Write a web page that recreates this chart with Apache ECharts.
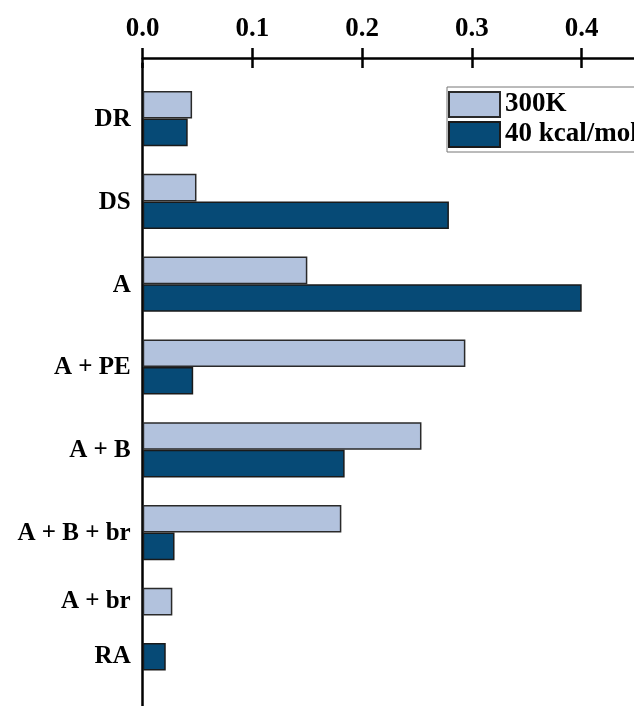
<!DOCTYPE html>
<html><head><meta charset="utf-8">
<script src="https://cdn.jsdelivr.net/npm/echarts@6/dist/echarts.min.js"></script>
<style>html,body{margin:0;padding:0;background:#fff}#c{width:634px;height:706px}</style>
</head><body><div id="c"></div>
<script>
const categories = ['DR', 'DS', 'A', 'A + PE', 'A + B', 'A + B + br', 'A + br', 'RA'];
const values300K = [0.045, 0.049, 0.150, 0.294, 0.254, 0.181, 0.027, null];
const values40kcal = [0.041, 0.279, 0.400, 0.046, 0.184, 0.029, null, 0.021];
const seriesNames = ['300K', '40 kcal/mol'];
const xMin = 0, xMax = 0.5, xStep = 0.1;

// Build bar slots: each bar gets its own band, groups separated by an empty band
const slotLabels = [''];
const slotAlign = ['middle'];
const slot300 = [null], slot40 = [null];
categories.forEach((c, i) => {
  const a = values300K[i], b = values40kcal[i];
  const both = a != null && b != null;
  if (a != null) { slotLabels.push(c); slotAlign.push(both ? 'top' : 'middle'); slot300.push(a); slot40.push(null); }
  if (b != null) { slotLabels.push(both ? '' : c); slotAlign.push('middle'); slot300.push(null); slot40.push(b); }
  slotLabels.push(''); slotAlign.push('middle'); slot300.push(null); slot40.push(null);
});
slotLabels.push(''); slotAlign.push('middle'); slot300.push(null); slot40.push(null);

const band = 27.6;
const font = 'Liberation Serif';
const chart = echarts.init(document.getElementById('c'), null, {renderer: 'canvas'});
const axisX = {
  type: 'value', position: 'top', min: xMin, max: xMax, interval: xStep, offset: 5.4,
  splitLine: {show: false}
};
chart.setOption({
  animation: false,
  backgroundColor: '#fff',
  grid: {left: 142.7, right: -57.45, top: 63.4, height: band * slotLabels.length,
    containLabel: false, outerBoundsMode: 'none'},
  legend: {
    data: seriesNames, orient: 'vertical', left: 447, top: 87,
    itemWidth: 51, itemHeight: 25, itemGap: 3,
    padding: [4, 40, 4, 1],
    borderColor: '#777', borderWidth: 1, backgroundColor: '#fff',
    icon: 'rect',
    textStyle: {fontFamily: font, fontWeight: 'bold', fontSize: 27, color: '#000'}
  },
  xAxis: [
    Object.assign({}, axisX, {
      axisLine: {show: true, lineStyle: {color: '#000', width: 2.5}},
      axisTick: {show: true, inside: false, length: 10, lineStyle: {color: '#000', width: 2.5}},
      axisLabel: {show: true, margin: 15, formatter: v => v.toFixed(1),
        fontFamily: font, fontWeight: 'bold', fontSize: 27, color: '#000'}
    }),
    Object.assign({}, axisX, {
      axisLine: {show: false},
      axisTick: {show: true, inside: true, length: 10, lineStyle: {color: '#000', width: 2.5}},
      axisLabel: {show: false}
    })
  ],
  yAxis: {
    type: 'category', inverse: true, boundaryGap: true,
    data: slotLabels.map((l, i) => ({
      value: 'slot' + i,
      textStyle: slotAlign[i] === 'top' ? {verticalAlign: 'top', lineHeight: band + 2} : {verticalAlign: 'middle'}
    })),
    axisLine: {show: true, lineStyle: {color: '#000', width: 2.5}},
    axisTick: {show: false},
    axisLabel: {interval: 0, margin: 12, formatter: (v, idx) => slotLabels[idx],
      fontFamily: font, fontWeight: 'bold', fontSize: 25, color: '#000'}
  },
  series: [
    {name: seriesNames[0], type: 'bar', xAxisIndex: 0, data: slot300, barWidth: '100%', barGap: '-100%',
      itemStyle: {color: '#b2c2dd', borderColor: '#2a2a2a', borderWidth: 1.5}},
    {name: seriesNames[1], type: 'bar', xAxisIndex: 0, data: slot40, barWidth: '100%', barGap: '-100%',
      itemStyle: {color: '#064a76', borderColor: '#1a1a1a', borderWidth: 1.5}}
  ]
});
</script></body></html>
